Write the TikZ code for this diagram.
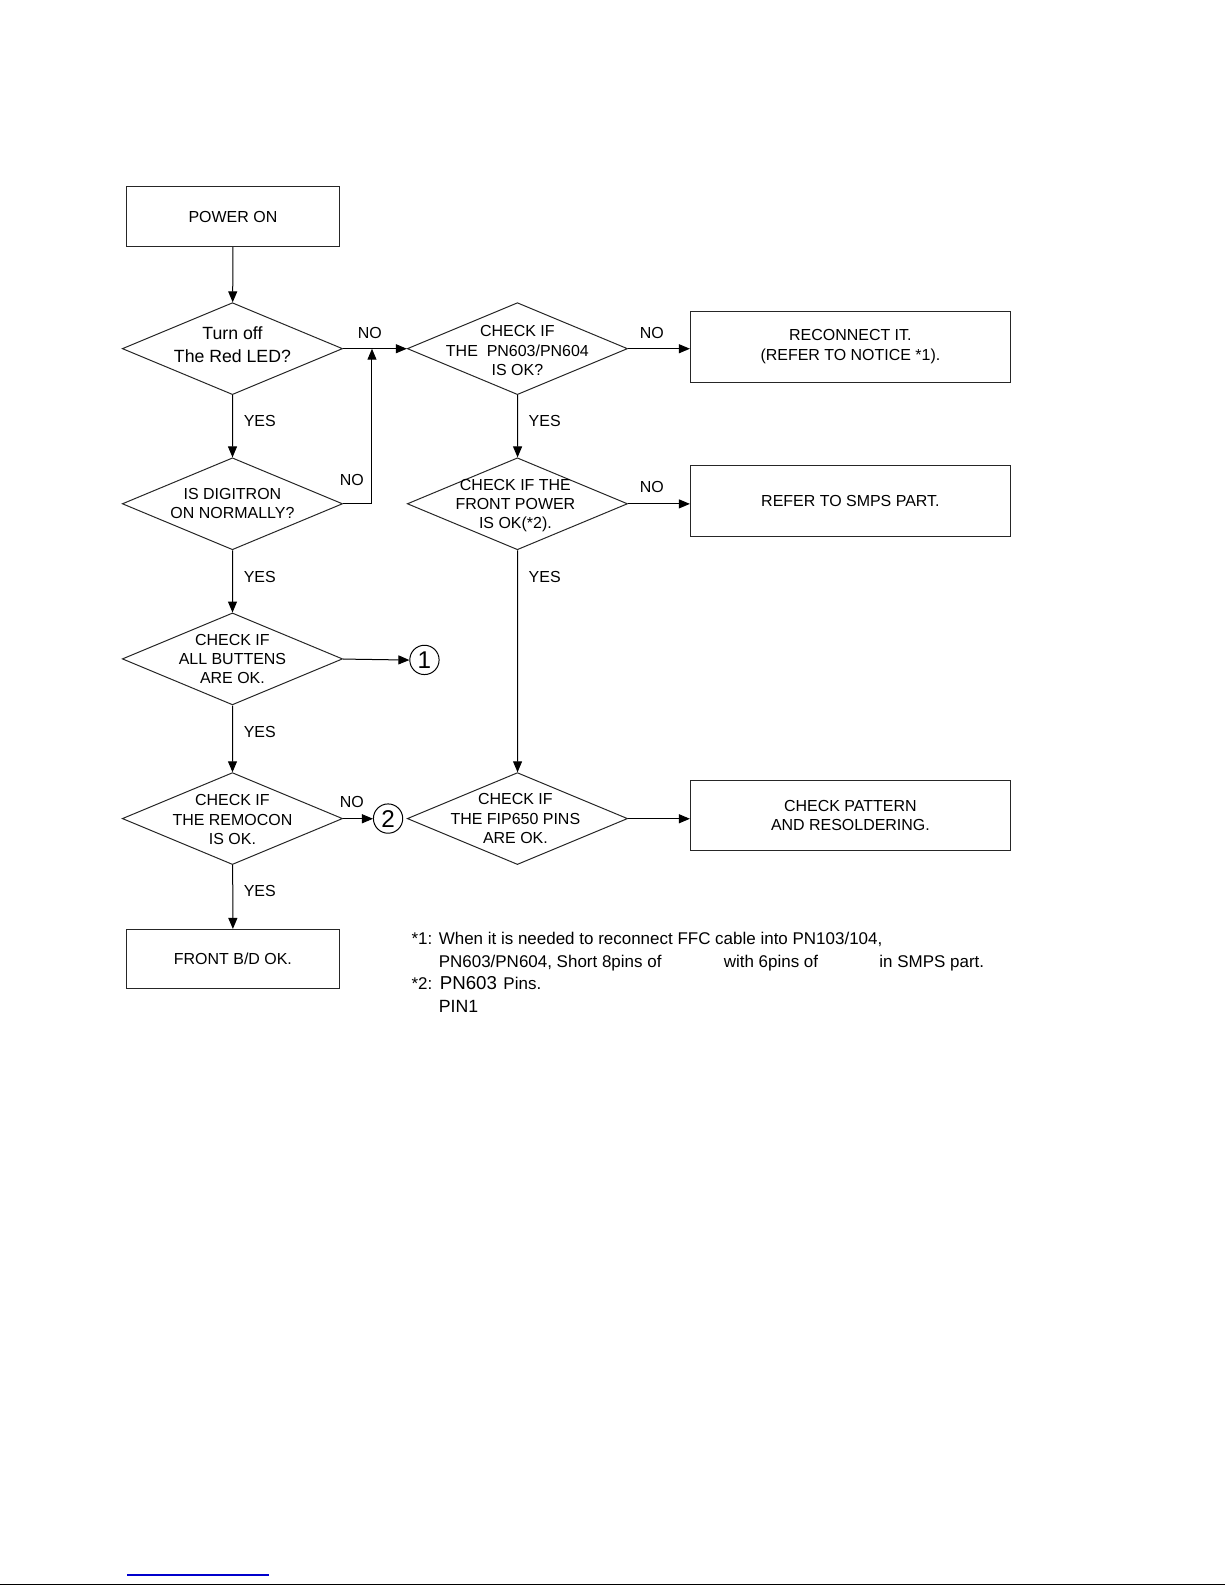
\documentclass[tikz,border=0pt]{standalone}
\usepackage{fontspec}
\setmainfont{Liberation Sans}
\usetikzlibrary{shapes.geometric,arrows.meta}
\begin{document}
\begin{tikzpicture}[x=1pt,y=-1pt,scale=1.0106,
  every node/.style={transform shape,font=\fontsize{15.8}{19}\selectfont},
  boxn/.style={draw=black!85,line width=1pt,minimum width=211pt,minimum height=59pt,inner sep=0pt},
  wbox/.style={draw=black!85,line width=1pt,minimum width=317pt,minimum height=70pt,inner sep=0pt,align=center},
  dia/.style={draw=black!85,line width=1pt,diamond,minimum width=218pt,minimum height=91pt,inner sep=0pt},
  dtext/.style={align=center,inner sep=0pt},
  circ/.style={draw,circle,line width=1pt,minimum size=29pt,inner sep=0pt,font=\fontsize{24}{24}\selectfont},
  lbl/.style={anchor=west,inner sep=0pt},
  arr/.style={line width=1pt,-{Triangle[length=11pt,width=9pt]}},
  note/.style={anchor=base west,inner sep=0pt,font=\fontsize{16.8}{19}\selectfont},
  bignote/.style={anchor=base west,inner sep=0pt,font=\fontsize{18.5}{19}\selectfont}
]
\useasboundingbox (0,0) rectangle (1212.15,1568.4);
% left column
\node[boxn] (pon) at (230.5,214.5) {POWER ON};
\node[dia] (d1) at (230,345) {};
\node[dtext,font=\fontsize{17.5}{22}\selectfont] (d1t) at (230,341) {Turn off\\The Red LED?};
\node[dia] (d2) at (230,498.5) {};
\node[dtext] (d2t) at (230,498) {IS DIGITRON\\ON NORMALLY?};
\node[dia] (d3) at (230,652) {};
\node[dtext] (d3t) at (230,652) {CHECK IF\\ALL BUTTENS\\ARE OK.};
\node[dia] (d4) at (230,810) {};
\node[dtext] (d4t) at (230,811) {CHECK IF\\THE REMOCON\\IS OK.};
\node[boxn] (fbd) at (230.5,949) {FRONT B/D OK.};
% right column
\node[dia] (d5) at (512,345) {};
\node[dtext] (d5t) at (512,347) {CHECK IF\\THE\ \ PN603/PN604\\IS OK?};
\node[dia] (d6) at (512,498.5) {};
\node[dtext] (d6t) at (510,500) {CHECK IF THE\\FRONT POWER\\IS OK(*2).};
\node[dia] (d7) at (512,810) {};
\node[dtext] (d7t) at (510,810) {CHECK IF\\THE FIP650 PINS\\ARE OK.};
\node[wbox] (b1) at (841.5,343) {RECONNECT IT.\\(REFER TO NOTICE *1).};
\node[wbox] (b2) at (841.5,496) {REFER TO SMPS PART.};
\node[wbox] (b3) at (841.5,807) {CHECK PATTERN\\AND RESOLDERING.};
\node[circ] (c1) at (420,653) {1};
\node[circ] (c2) at (384,810) {2};
\coordinate (j1) at (368,345);
% connectors
\draw[arr] (pon) -- (d1);
\draw[arr] (d1) -- (d2);
\draw[arr] (d2) -- (d3);
\draw[arr] (d3) -- (d4);
\draw[arr] (d4) -- (fbd);
\draw[arr] (d1.east) -- (d5.west);
\draw[arr] (d2.east) -| (j1);
\draw[arr] (d3.east) -- (c1.west);
\draw[arr] (d4.east) -- (c2.west);
\draw[arr] (d5.east) -- (d5.east -| b1.west);
\draw[arr] (d5) -- (d6);
\draw[arr] (d6.east) -- (d6.east -| b2.west);
\draw[arr] (d6) -- (d7);
\draw[arr] (d7.east) -- (d7.east -| b3.west);
% labels
\node[lbl] (y1) at (241,417) {YES};
\node[lbl] (y2) at (241,571) {YES};
\node[lbl] (y3) at (241,724) {YES};
\node[lbl] (y4) at (241,882) {YES};
\node[lbl] (y5) at (523,417) {YES};
\node[lbl] (y6) at (523,571) {YES};
\node[lbl] (n1) at (354,330) {NO};
\node[lbl] (n2) at (336,475) {NO};
\node[lbl] (n3) at (633,330) {NO};
\node[lbl] (n4) at (633,482) {NO};
\node[lbl] (n5) at (336,794) {NO};
% notes
\node[note] (t0) at (407,935) {*1:};
\node[note] (t1) at (434,935) {When it is needed to reconnect FFC cable into PN103/104,};
\node[note] (t2) at (434,957) {PN603/PN604, Short 8pins of};
\node[note] (t3) at (716,957) {with 6pins of};
\node[note] (t4) at (870,957) {in SMPS part.};
\node[note] (t5) at (407,979) {*2:};
\node[bignote] (t6) at (435,979) {PN603};
\node[note] (t7) at (498,979) {Pins.};
\node[bignote,font=\fontsize{17.5}{19}\selectfont] (t8) at (434,1002) {PIN1};
% page marks
\draw[blue!80!black,line width=1.5pt] (125.7,1558.5) -- (266.2,1558.5);
\draw[black,line width=1.2pt] (0,1567.8) -- (1212.15,1567.8);
\end{tikzpicture}
\end{document}
